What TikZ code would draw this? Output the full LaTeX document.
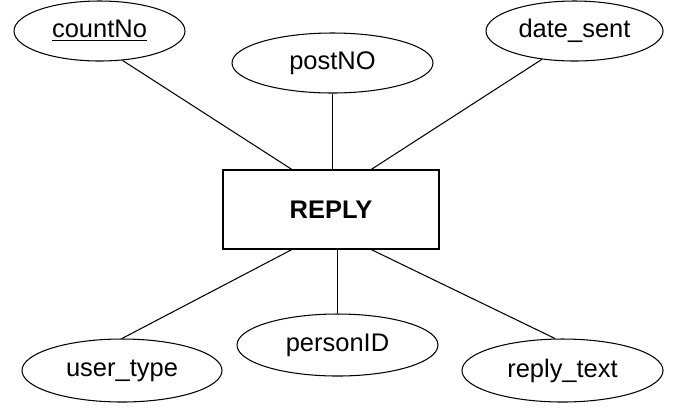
\documentclass[tikz,border=0pt]{standalone}
\usepackage{fontspec}
\setmainfont{Liberation Sans}
\usepackage{tikz}
\usetikzlibrary{calc, shapes.geometric}
\tikzstyle{attribut} = [ellipse, draw=black, line width=0.6pt, inner sep=0pt, minimum width=4cm, minimum height=1.24cm, font=\fontsize{14.5}{17}\selectfont]
\tikzstyle{entite} = [rectangle, draw=black, line width=0.6pt, minimum width=4.32cm, minimum height=1.58cm, font=\fontsize{14.5}{17}\selectfont\bfseries]
\tikzstyle{lien} = [line width=0.6pt]

\begin{document}
\begin{tikzpicture}

        \useasboundingbox (0,0) rectangle (13.46,-8.3);

        \node (reply) [entite] at (6.62,-4.19) {REPLY};

        \node (countno) [attribut, minimum width=3.42cm, minimum height=1.2cm] at (1.99,-0.62) {\underline{countNo}};
        \node (postno) [attribut, minimum width=4.02cm, minimum height=1.2cm] at (6.65,-1.26) {postNO};
        \node (datesent) [attribut, minimum width=3.54cm, minimum height=1.2cm] at (11.49,-0.62) {date\_sent};

        \node (usertype) [attribut, minimum height=1.26cm] at (2.44,-7.41) {user\_type};
        \node (personid) [attribut, minimum width=4.02cm] at (6.75,-6.9) {personID};
        \node (replytext) [attribut, minimum width=4.02cm, minimum height=1.26cm] at (11.25,-7.41) {reply\_text};

        \draw[lien] (countno.308) -- ($(reply.north west)!0.32!(reply.north east)$);
        \draw[lien] (postno.south) -- (postno.south |- reply.north);
        \draw[lien] (datesent.221) -- ($(reply.north west)!0.685!(reply.north east)$);

        \draw[lien] ($(reply.south west)!0.32!(reply.south east)$) -- (usertype.north);
        \draw[lien] (personid.north |- reply.south) -- (personid.north);
        \draw[lien] ($(reply.south west)!0.685!(reply.south east)$) -- (replytext.103);

    \end{tikzpicture}
\end{document}
